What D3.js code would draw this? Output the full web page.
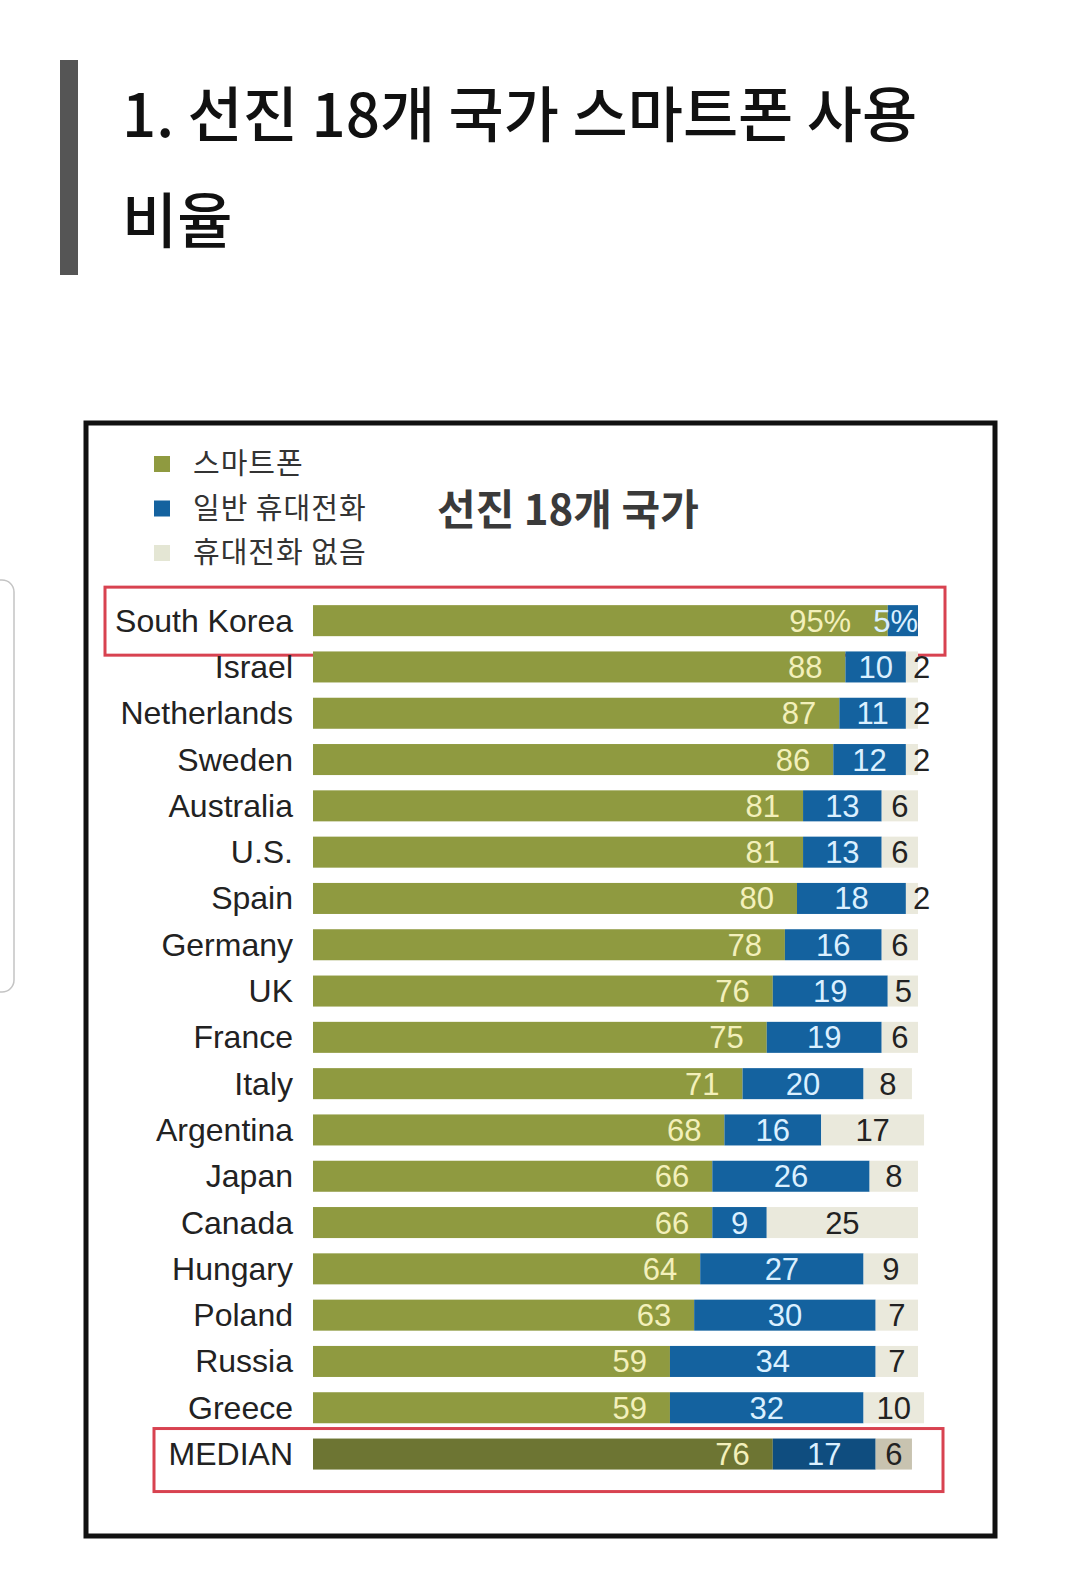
<!DOCTYPE html>
<html>
<head>
<meta charset="utf-8">
<script src="https://cdn.jsdelivr.net/npm/d3@7"></script>
<style>
  html, body { margin: 0; padding: 0; background: #ffffff; }
  svg { display: block; }
</style>
</head>
<body>
<svg id="chart" width="1080" height="1580"></svg>
<script>
// ---------- data ----------
const countries = ["South Korea","Israel","Netherlands","Sweden","Australia","U.S.","Spain","Germany","UK","France","Italy","Argentina","Japan","Canada","Hungary","Poland","Russia","Greece","MEDIAN"];
const smartphone = [95,88,87,86,81,81,80,78,76,75,71,68,66,66,64,63,59,59,76];
const cellphone  = [5,10,11,12,13,13,18,16,19,19,20,16,26,9,27,30,34,32,17];
const noPhone    = [0,2,2,2,6,6,2,6,5,6,8,17,8,25,9,7,7,10,6];
const seriesNames = ["스마트폰","일반 휴대전화","휴대전화 없음"];
const titleLines = ["1. 선진 18개 국가 스마트폰 사용","비율"];
const chartTitle = "선진 18개 국가";

// ---------- styles ----------
const colors = ["#8f9a40","#14629f","#eae9dc"];
const medianColors = ["#6d7533","#0f4d7f","#c8c3b0"];
const labelColors = ["#f3f0bb","#dbf0ff","#222222"];
const latin = "'Liberation Sans', Arial, Helvetica, sans-serif";
const kr = "'Noto Sans CJK KR', 'Noto Sans', sans-serif";

const svg = d3.select("#chart");

// phone-screen side handle
svg.append("rect").attr("x",-20).attr("y",580).attr("width",34).attr("height",412)
  .attr("rx",12).attr("fill","#ffffff").attr("stroke","#c4c4c4").attr("stroke-width",1.5);

// page title with grey side bar
svg.append("rect").attr("x",60).attr("y",60).attr("width",18).attr("height",215).attr("fill","#555555");
svg.append("g").selectAll("text").data(titleLines).join("text")
  .attr("x",122).attr("y",(d,i)=>137 + i*106)
  .attr("font-family",kr).attr("font-size",60).attr("font-weight",500)
  .attr("fill","#111").text(d=>d);

// chart frame
svg.append("rect").attr("x",86).attr("y",423).attr("width",909).attr("height",1113)
  .attr("fill","#ffffff").attr("stroke","#111111").attr("stroke-width",5);

// legend
const legend = svg.append("g");
const legendY = d3.scalePoint().domain(seriesNames).range([464,553]);
legend.selectAll("rect").data(seriesNames).join("rect")
  .attr("x",154).attr("y",d=>legendY(d)-8).attr("width",16).attr("height",16)
  .attr("fill",(d,i)=>i===2 ? "#e4e6d4" : colors[i]);
legend.selectAll("text").data(seriesNames).join("text")
  .attr("x",193).attr("y",d=>legendY(d)+10)
  .attr("font-family",kr).attr("font-size",29).attr("letter-spacing",1)
  .attr("fill","#333").text(d=>d);

// chart title
svg.append("text").attr("x",437).attr("y",525)
  .attr("font-family",kr).attr("font-size",42).attr("font-weight",700)
  .attr("fill","#3a3a3a").text(chartTitle);

// scales
const x = d3.scaleLinear().domain([0,100]).range([313,918]);
const y = d3.scaleBand().domain(countries).range([597.5, 597.5 + 19*46.3])
  .paddingInner(0.33).paddingOuter(0.165);
const bh = y.bandwidth();

// highlight boxes (offsets above bar top / below bar bottom)
const boxes = [
  {c:"South Korea", x0:105, x1:945, above:18, below:19},
  {c:"MEDIAN", x0:154, x1:943, above:10, below:22}
];
svg.append("g").selectAll("rect").data(boxes).join("rect")
  .attr("x",d=>d.x0).attr("y",d=>y(d.c)-d.above)
  .attr("width",d=>d.x1-d.x0).attr("height",d=>d.above+bh+d.below)
  .attr("fill","none").attr("stroke","#d84250").attr("stroke-width",3);

// rows
const rows = countries.map((c,i)=>({c, v:[smartphone[i],cellphone[i],noPhone[i]], median:c==="MEDIAN"}));

const rowG = svg.append("g").selectAll("g").data(rows).join("g");

// country labels
rowG.append("text")
  .attr("x",293).attr("y",d=>y(d.c)+bh/2+11)
  .attr("text-anchor","end").attr("font-family",latin).attr("font-size",32)
  .attr("fill","#222").text(d=>d.c);

rowG.each(function(d,i){
  const g = d3.select(this);
  const yy = y(d.c);
  let acc = 0;
  const segs = d.v.map((v,k)=>{ const s = {k, v, a:acc, b:acc+v}; acc += v; return s; });
  g.selectAll("rect.seg").data(segs.filter(s=>s.v>0)).join("rect")
    .attr("class","seg")
    .attr("x",s=>x(s.a)).attr("y",yy).attr("width",s=>x(s.b)-x(s.a)).attr("height",bh)
    .attr("fill",s=>(d.median?medianColors:colors)[s.k]);

  const base = yy + bh/2 + 11;
  const fmt = (s)=> i===0 ? s.v + "%" : String(s.v);
  // blue label
  const sB = segs[1];
  const tB = g.append("text").attr("font-family",latin).attr("font-size",31)
    .attr("fill",labelColors[1]).attr("y",base).text(fmt(sB));
  const wB = tB.node().getComputedTextLength();
  let blueLeft;
  if (wB > x(sB.b)-x(sB.a) - 4) {
    tB.attr("x",x(sB.b)).attr("text-anchor","end");
    blueLeft = x(sB.b) - wB;
  } else {
    const cx = (x(sB.a)+x(sB.b))/2;
    tB.attr("x",cx).attr("text-anchor","middle");
    blueLeft = cx - wB/2;
  }
  // green label
  const sG = segs[0];
  g.append("text").attr("font-family",latin).attr("font-size",31)
    .attr("fill",labelColors[0]).attr("y",base).attr("text-anchor","end")
    .attr("x",Math.min(x(sG.b)-23, blueLeft-22)).text(fmt(sG));
  // no-phone label
  const sN = segs[2];
  if (sN.v > 0) {
    const tN = g.append("text").attr("font-family",latin).attr("font-size",31)
      .attr("fill",labelColors[2]).attr("y",base).attr("text-anchor","middle").text(fmt(sN));
    const wN = tN.node().getComputedTextLength();
    const cx = Math.max((x(sN.a)+x(sN.b))/2, x(sN.a)+7+wN/2);
    tN.attr("x",cx);
  }
});
</script>
</body>
</html>
